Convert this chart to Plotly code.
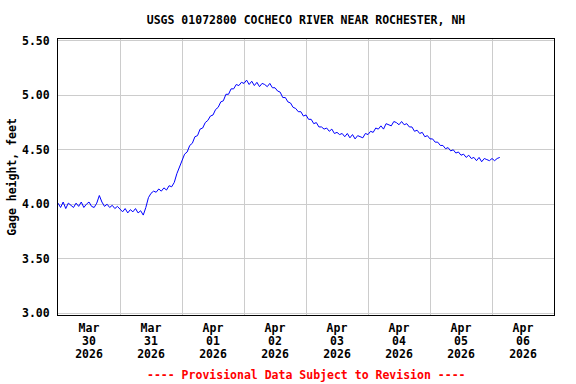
import plotly.graph_objects as go
import pandas as pd

title_text = "USGS 01072800 COCHECO RIVER NEAR ROCHESTER, NH"
y_title = "Gage height, feet"
footer_text = "---- Provisional Data Subject to Revision ----"

start_time = "2026-03-30 00:00"
# hourly gage height readings (feet), starting Mar 30 00:00
gage_height = [
    4.01, 3.97, 4.02, 3.96, 4.01, 3.99, 3.97, 4.01, 3.98, 4.02, 3.97, 4.00,
    4.02, 3.98, 3.97, 4.01, 4.08, 4.02, 3.98, 4.00, 3.97, 3.99, 3.96, 3.98,
    3.95, 3.93, 3.96, 3.92, 3.95, 3.93, 3.96, 3.92, 3.94, 3.90, 3.97, 4.06,
    4.10, 4.12, 4.11, 4.14, 4.12, 4.15, 4.13, 4.17, 4.16, 4.20, 4.28, 4.34,
    4.40, 4.46, 4.48, 4.54, 4.56, 4.62, 4.63, 4.69, 4.70, 4.75, 4.77, 4.81,
    4.82, 4.87, 4.89, 4.94, 4.95, 5.01, 5.01, 5.06, 5.06, 5.10, 5.09, 5.12,
    5.11, 5.14, 5.10, 5.13, 5.09, 5.12, 5.08, 5.11, 5.10, 5.08, 5.11, 5.07,
    5.07, 5.04, 5.03, 4.98, 4.98, 4.94, 4.93, 4.89, 4.88, 4.85, 4.85, 4.81,
    4.82, 4.78, 4.78, 4.74, 4.75, 4.71, 4.71, 4.69, 4.70, 4.67, 4.69, 4.65,
    4.66, 4.64, 4.65, 4.62, 4.65, 4.61, 4.64, 4.60, 4.63, 4.62, 4.61, 4.65,
    4.64, 4.67, 4.66, 4.70, 4.69, 4.72, 4.69, 4.74, 4.73, 4.72, 4.76, 4.75,
    4.73, 4.76, 4.73, 4.74, 4.71, 4.71, 4.67, 4.68, 4.65, 4.66, 4.62, 4.63,
    4.60, 4.60, 4.57, 4.57, 4.54, 4.54, 4.51, 4.52, 4.49, 4.50, 4.47, 4.48,
    4.45, 4.46, 4.43, 4.45, 4.42, 4.43, 4.40, 4.43, 4.39, 4.42, 4.41, 4.40,
    4.42, 4.40, 4.42, 4.43,
]

day_starts = ["2026-03-30", "2026-03-31", "2026-04-01", "2026-04-02",
              "2026-04-03", "2026-04-04", "2026-04-05", "2026-04-06", "2026-04-07"]
tick_positions = ["2026-03-30 12:00", "2026-03-31 12:00", "2026-04-01 12:00",
                  "2026-04-02 12:00", "2026-04-03 12:00", "2026-04-04 12:00",
                  "2026-04-05 12:00", "2026-04-06 12:00"]
tick_months = ["Mar", "Mar", "Apr", "Apr", "Apr", "Apr", "Apr", "Apr"]
tick_days = ["30", "31", "01", "02", "03", "04", "05", "06"]
tick_years = ["2026", "2026", "2026", "2026", "2026", "2026", "2026", "2026"]
y_ticks = [3.0, 3.5, 4.0, 4.5, 5.0, 5.5]
y_tick_labels = ["3.00", "3.50", "4.00", "4.50", "5.00", "5.50"]

times = pd.date_range(start_time, periods=len(gage_height), freq="h")

FONT = "DejaVu Sans Mono"
FS = 11.5


def small(s):
    return f"<span style='font-size:{FS}px'>{s}</span>"


tick_text = ["<br>".join(small(p) for p in parts)
             for parts in zip(tick_months, tick_days, tick_years)]

fig = go.Figure()
fig.add_trace(go.Scatter(x=times, y=gage_height, mode="lines",
                         line=dict(color="#0000FF", width=1),
                         showlegend=False))

fig.update_layout(
    width=576, height=384,
    margin=dict(l=58, r=22, t=39, b=69),
    paper_bgcolor="white", plot_bgcolor="white",
    font=dict(family=FONT, size=FS, color="black", weight="bold"),
    title=dict(text=title_text, x=(58 + 554) / 2 / 576, xanchor="center",
               y=1 - 20 / 384, yanchor="middle",
               font=dict(family=FONT, size=FS, color="black", weight="bold")),
    xaxis=dict(
        range=[day_starts[0], day_starts[-1]],
        tickmode="array", tickvals=tick_positions, ticktext=tick_text,
        showgrid=False, ticks="outside", ticklen=4, tickcolor="rgba(0,0,0,0)",
        tickangle=0, automargin=False,
        showline=True, linecolor="black", linewidth=1, mirror=True,
        minor=dict(tickmode="array", tickvals=day_starts, showgrid=True,
                   gridcolor="#cccccc", gridwidth=1, ticks=""),
        tickfont=dict(family=FONT, size=10, color="black", weight="bold"),
        zeroline=False,
    ),
    yaxis=dict(
        range=[2.982, 5.518],
        tickmode="array", tickvals=y_ticks, ticktext=y_tick_labels,
        showgrid=True, gridcolor="#cccccc", gridwidth=1,
        ticks="outside", ticklen=5, tickcolor="rgba(0,0,0,0)",
        automargin=False,
        showline=True, linecolor="black", linewidth=1, mirror=True,
        zeroline=False,
        title=dict(text=y_title, standoff=2,
                   font=dict(family=FONT, size=FS, color="black", weight="bold")),
        tickfont=dict(family=FONT, size=FS, color="black", weight="bold"),
    ),
)

fig.add_annotation(text=footer_text, xref="paper", yref="paper",
                   x=0.5, y=-(375 - 315) / (315 - 39), xanchor="center", yanchor="middle",
                   showarrow=False,
                   font=dict(family=FONT, size=FS, color="#FF0000", weight="bold"))

fig.write_html("out.html", config={"displayModeBar": False},
               post_script="document.body.style.margin='0';")
